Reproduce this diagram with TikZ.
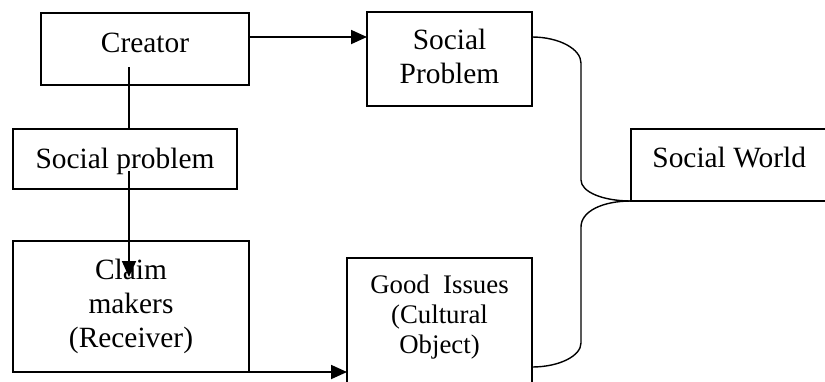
\documentclass[tikz,border=0pt]{standalone}
\usepackage{fontspec}
\setmainfont{Liberation Serif}
\usetikzlibrary{arrows.meta}
\tikzset{
	box/.style={draw,line width=0.6pt,inner sep=0pt,outer sep=0pt},
	txt/.style={inner sep=0pt,align=center,font=\fontsize{14.7}{16.8}\selectfont},
	smalltxt/.style={inner sep=0pt,align=center,font=\fontsize{13.4}{15.2}\selectfont},
	conn/.style={line width=0.9pt},
	arr/.style={line width=0.9pt,-{Triangle[length=8pt,width=7pt]}},
	brace/.style={line width=0.7pt}
}
\begin{document}
\begin{tikzpicture}[x=0.5pt,y=-0.5pt]
	\useasboundingbox (0,0) rectangle (825,381);
	\clip (0,0) rectangle (825,381);
	\def\xB{581};
	% boxes
	\node[box,minimum width=104pt,minimum height=36pt] (creator) at (145,49) {};
	\node[box,minimum width=112pt,minimum height=30pt] (socprob) at (125,159) {};
	\node[box,minimum width=118pt,minimum height=65.5pt] (claim) at (131,306.5) {};
	\node[box,minimum width=82.5pt,minimum height=47pt] (socprobtop) at (449.5,59) {};
	\node[box,minimum width=92.5pt,minimum height=68.5pt] (good) at (439.5,326.5) {};
	\node[box,minimum width=102pt,minimum height=36pt] (world) at (733,165) {};
	% texts
	\node[txt,anchor=base] (creatorlbl) at (145,52) {Creator};
	\node[txt,anchor=base] (socproblbl) at (125,168) {Social problem};
	\node[txt,anchor=north] (claimlbl) at (131,259) {Claim\\makers\\(Receiver)};
	\node[txt,anchor=north] (socprobtoplbl) at (449.5,29) {Social\\Problem};
	\node[smalltxt,anchor=north] (goodlbl) at (439.5,274) {Good\ \ Issues\\(Cultural\\Object)};
	\node[txt,anchor=base west] (worldlbl) at (652,167) {Social World};
	% connectors
	\coordinate (cstart) at (129,67);
	\coordinate (sstart) at (129,171);
	\coordinate (ctip) at (129,277);
	\draw[conn] (cstart) -- (cstart |- socprob.north);
	\draw[arr] (sstart) -- (ctip);
	\draw[arr] (creator.east |- 0,37) -- (socprobtop.west |- 0,37);
	\draw[arr] (claim.south east) -- (good.west |- claim.south east);
	\draw[brace] (socprobtop.east |- 0,37) .. controls (559,37) and (\xB,49) .. (\xB,63) -- (\xB,180) .. controls (\xB,192) and (603,201) .. (world.south west);
	\draw[brace] (world.south west) .. controls (603,201) and (\xB,211) .. (\xB,227) -- (\xB,343) .. controls (\xB,356) and (559,367) .. (good.east |- 0,367);
\end{tikzpicture}
\end{document}
